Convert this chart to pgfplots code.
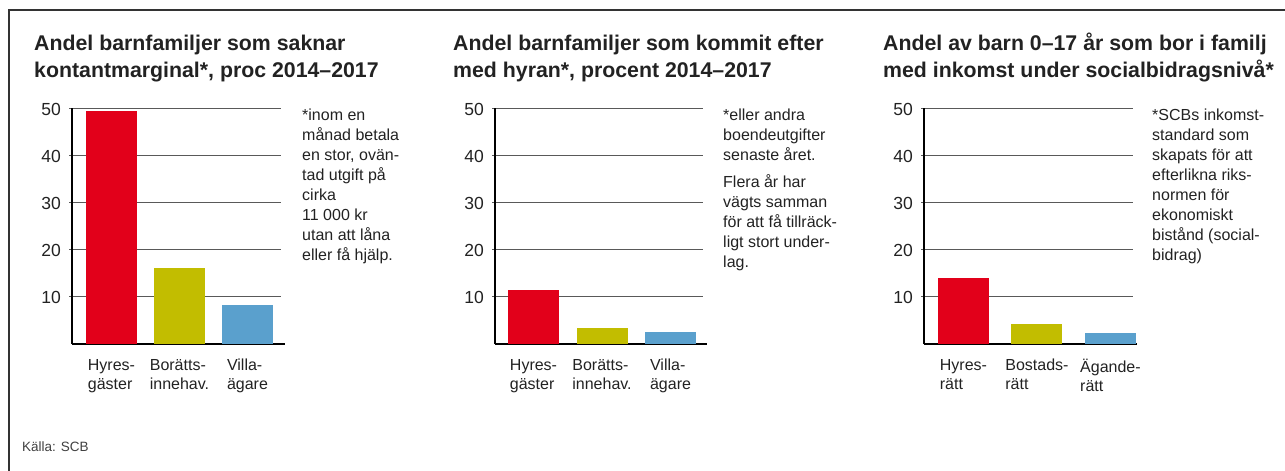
\documentclass[border=0pt]{standalone}
\usepackage{fontspec}
\setmainfont{Liberation Sans}
\usepackage{pgfplots}
\pgfplotsset{compat=1.18}
\definecolor{cred}{HTML}{E2001A}
\definecolor{colive}{HTML}{C2BD00}
\definecolor{cblue}{HTML}{5AA0CD}
\definecolor{ctext}{HTML}{222222}
\pgfplotsset{panel/.style={
  scale only axis, height=236pt,
  ymin=0, ymax=50, ytick={10,20,30,40,50},
  axis x line*=bottom, axis y line*=left,
  axis line style={line width=2pt, black},
  x axis line style={shorten >=-4pt},
  ymajorgrids, grid style={line width=0.9pt, black!65},
  tick align=outside, major tick length=3pt,
  ytick style={line width=0.9pt, black!65},
  xtick={0,1,2}, xtick style={draw=none},
  xticklabel style={font=\fontsize{16}{19}\selectfont, text=ctext},
  yticklabel style={font=\fontsize{17.5}{20}\selectfont, text=ctext},
  /pgf/number format/assume math mode=true,
  yticklabel style={anchor=east, inner sep=0pt, xshift=-8pt, yshift=-1pt},
  xticklabel style={align=left, anchor=north, inner sep=0pt, yshift=-12pt},
  clip=false, anchor=south west,
}}
\newcommand{\fn}[3]{% x, first baseline, list
  \foreach \t [count=\i from 0] in {#3}{
    \node[anchor=base west, inner sep=0pt, font=\fontsize{16}{20}\selectfont, text=ctext] at (#1pt,{-#2pt-\i*20pt}) {\t};
  }}
\begin{document}
\begin{tikzpicture}[x=1pt,y=1pt]
\useasboundingbox (0,0) rectangle (1285,-471);
\draw[line width=1.3pt, black!80] (9,-471) -- (9,-10) -- (1285,-10);
% titles
\tikzset{ttl/.style={anchor=base west, inner sep=0pt, font=\bfseries\fontsize{21.3}{27}\selectfont, text=ctext}}
\node[ttl] at (34,-50.7) {Andel barnfamiljer som saknar};
\node[ttl] at (34,-77.5) {kontantmarginal*, proc 2014–2017};
\node[ttl] at (453,-50.7) {Andel barnfamiljer som kommit efter};
\node[ttl] at (453,-77.5) {med hyran*, procent 2014–2017};
\node[ttl] at (883,-50.7) {Andel av barn 0–17 år som bor i familj};
\node[ttl] at (883,-77.5) {med inkomst under socialbidragsnivå*};
% panel 1
\begin{axis}[panel, at={(72pt,-344pt)}, width=209pt, xmin=-0.581, xmax=2.493,
  xticklabels={{Hyres-\\gäster},{Borätts-\\innehav.},{Villa-\\ägare}}]
\addplot[ybar, bar width=51pt, bar shift=0pt, fill=cred, draw=none] coordinates {(0,49.4)};
\addplot[ybar, bar width=51pt, bar shift=0pt, fill=colive, draw=none] coordinates {(1,16.1)};
\addplot[ybar, bar width=51pt, bar shift=0pt, fill=cblue, draw=none] coordinates {(2,8.3)};
\end{axis}
% panel 2
\begin{axis}[panel, at={(495pt,-344pt)}, width=208pt, xmin=-0.562, xmax=2.474,
  xticklabels={{Hyres-\\gäster},{Borätts-\\innehav.},{Villa-\\ägare}}]
\addplot[ybar, bar width=51pt, bar shift=0pt, fill=cred, draw=none] coordinates {(0,11.4)};
\addplot[ybar, bar width=51pt, bar shift=0pt, fill=colive, draw=none] coordinates {(1,3.4)};
\addplot[ybar, bar width=51pt, bar shift=0pt, fill=cblue, draw=none] coordinates {(2,2.5)};
\end{axis}
% panel 3
\begin{axis}[panel, at={(924pt,-344pt)}, width=209pt, xmin=-0.537, xmax=2.307,
  xticklabels={{Hyres-\\rätt},{Bostads-\\rätt},{Ägande-\\rätt}}]
\addplot[ybar, bar width=51pt, bar shift=0pt, fill=cred, draw=none] coordinates {(0,14.0)};
\addplot[ybar, bar width=51pt, bar shift=0pt, fill=colive, draw=none] coordinates {(1,4.2)};
\addplot[ybar, bar width=51pt, bar shift=0pt, fill=cblue, draw=none] coordinates {(2,2.3)};
\end{axis}
% footnotes
\fn{302}{120}{{*inom en},{månad betala},{en stor, ovän-},{tad utgift på},{cirka},{11 000 kr},{utan att låna},{eller få hjälp.}}
\fn{723}{120}{{*eller andra},{boendeutgifter},{senaste året.}}
\fn{723}{187}{{Flera år har},{vägts samman},{för att få tillräck-},{ligt stort under-},{lag.}}
\fn{1152}{120}{{*SCBs inkomst-},{standard som},{skapats för att},{efterlikna riks-},{normen för},{ekonomiskt},{bistånd (social-},{bidrag)}}
\node[anchor=base west, inner sep=0pt, font=\fontsize{13.5}{16}\selectfont, text=black!75] at (22,-451.5) {Källa: SCB};
\end{tikzpicture}
\end{document}
